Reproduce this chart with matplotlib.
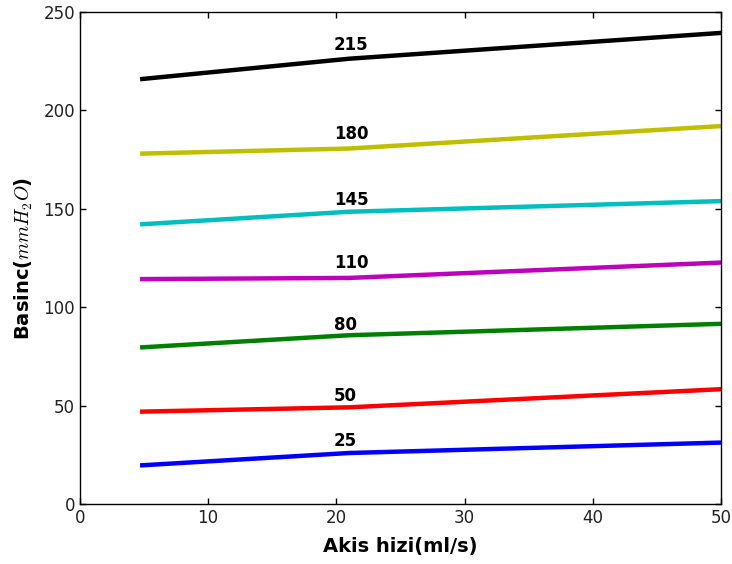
import matplotlib
matplotlib.use("Agg")
import matplotlib.pyplot as plt

# Data
flow = [4.7, 21.0, 50.0]
series_labels = ["25", "50", "80", "110", "145", "180", "215"]
series_colors = ["b", "r", "g", "m", "c", "y", "k"]
p25 = [19.7, 26.0, 31.3]
p50 = [47.0, 49.2, 58.4]
p80 = [79.6, 85.8, 91.6]
p110 = [114.3, 114.9, 122.7]
p145 = [142.1, 148.5, 153.9]
p180 = [178.0, 180.6, 192.0]
p215 = [215.8, 226.2, 239.3]
series_values = [p25, p50, p80, p110, p145, p180, p215]
label_x = 19.8
label_y = [32.0, 55.0, 91.0, 122.5, 154.7, 187.8, 233.4]
x_ticks = [0, 10, 20, 30, 40, 50]
y_ticks = [0, 50, 100, 150, 200, 250]

plt.rcParams["mathtext.fontset"] = "cm"
plt.rcParams["font.family"] = ["DejaVu Sans"]

fig = plt.figure(figsize=(7.32, 5.64), dpi=100)
ax = fig.add_axes([0.109, 0.106, 0.876, 0.873])

classic = {"b": (0, 0, 1), "r": (1, 0, 0), "g": (0, 0.5, 0), "m": (0.75, 0, 0.75),
           "c": (0, 0.75, 0.75), "y": (0.75, 0.75, 0), "k": (0, 0, 0)}

for vals, col, lab, ly in zip(series_values, series_colors, series_labels, label_y):
    ax.plot(flow, vals, color=classic[col], linewidth=3.2, solid_capstyle="butt")
    ax.text(label_x, ly, lab, fontsize=12, fontweight="bold", ha="left", va="center")

ax.set_xlim(0, 50)
ax.set_ylim(0, 250)
ax.set_xticks(x_ticks)
ax.set_yticks(y_ticks)
ax.tick_params(direction="in", top=True, right=True, length=4, width=1, labelsize=12,
               labelcolor="#222222")
for s in ax.spines.values():
    s.set_linewidth(1)
ax.set_xlabel("Akis hizi(ml/s)", fontsize=14, fontweight="bold", labelpad=7)
ax.set_ylabel("Basinc($mmH_2O$)", fontsize=14, fontweight="bold", labelpad=6)

fig.savefig("out.png", dpi=100)
